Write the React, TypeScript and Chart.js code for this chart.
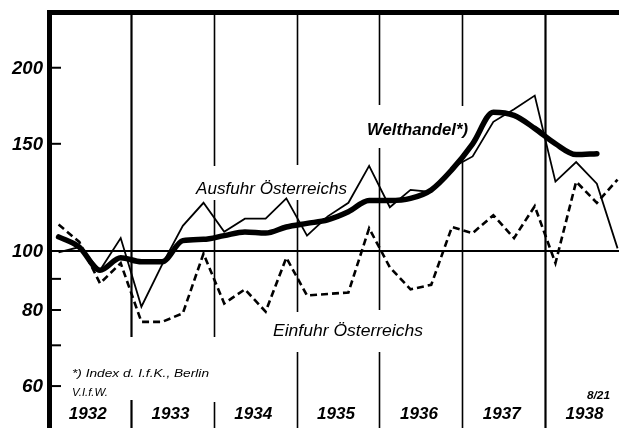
import React, { useEffect, useRef } from "react";
import { Chart, registerables } from "chart.js";

Chart.register(...registerables);

// Quarterly index values, log scale
const quarters = [
  "1932 I", "1932 II", "1932 III", "1932 IV",
  "1933 I", "1933 II", "1933 III", "1933 IV",
  "1934 I", "1934 II", "1934 III", "1934 IV",
  "1935 I", "1935 II", "1935 III", "1935 IV",
  "1936 I", "1936 II", "1936 III", "1936 IV",
  "1937 I", "1937 II", "1937 III", "1937 IV",
  "1938 I", "1938 II", "1938 III", "1938 IV",
];
const years = ["1932", "1933", "1934", "1935", "1936", "1937", "1938"];

const ausfuhr = [
  99.5, 101.5, 93, 105,
  81, 95, 110, 120,
  107.5, 113, 113, 122,
  106, 114, 120, 138,
  118, 126, 125, 137,
  143, 163, 171, 180,
  130, 140, 129, 101,
];
const einfuhr = [
  110.5, 103.5, 88.5, 95.5,
  76.5, 76.5, 79, 99,
  82, 86.5, 79.5, 97.5,
  84.5, 85, 85.5, 109,
  94, 86.5, 88, 109.5,
  107, 114.5, 105, 118.5,
  95.5, 130, 120, 131,
];
const welthandel = [
  105.5, 101.5, 93, 97.5,
  96, 96, 104, 104.5,
  106, 107.5, 107, 109.5,
  111, 112.5, 116, 121,
  121, 122, 126, 136,
  150, 169, 167, 159,
  150, 144, 144.5,
];

const yLabelTicks = [60, 80, 100, 150, 200];
const yMarkTicks = [60, 70, 80, 90, 150, 200];

const seriesLabels = {
  welt: "Welthandel*)",
  aus: "Ausfuhr Österreichs",
  ein: "Einfuhr Österreichs",
  note: "*) Index d. I.f.K., Berlin",
  source: "V.I.f.W.",
  num: "8/21",
};

const FONT = '"Liberation Sans", "DejaVu Sans", sans-serif';

function fitText(ctx: CanvasRenderingContext2D, text: string, left: number, baseline: number, width: number, font: string) {
  ctx.font = font;
  const m = ctx.measureText(text).width;
  ctx.save();
  ctx.translate(left, baseline);
  ctx.scale(width / m, 1);
  ctx.textAlign = "left";
  ctx.textBaseline = "alphabetic";
  ctx.fillText(text, 0, 0);
  ctx.restore();
}

function seg(ctx: CanvasRenderingContext2D, x1: number, y1: number, x2: number, y2: number) {
  ctx.beginPath();
  ctx.moveTo(x1, y1);
  ctx.lineTo(x2, y2);
  ctx.stroke();
}

// vertical extents (px) of each year separator, leaving gaps around texts
const separatorSegments: number[][][] = [
  [[13, 337], [400, 428]],
  [[13, 166], [200, 337], [402, 428]],
  [[13, 165], [200, 312], [352, 428]],
  [[13, 105], [148, 310], [352, 428]],
  [[13, 106], [160, 428]],
  [[13, 428]],
];

const decor = {
  id: "decor",
  beforeDatasetsDraw(chart: any) {
    const { ctx, chartArea: a, scales } = chart;
    const xs = scales.x;
    const ys = scales.y;
    ctx.save();
    ctx.strokeStyle = "#000";
    ctx.lineCap = "butt";
    ctx.lineWidth = 2;
    const y100 = ys.getPixelForValue(100);
    seg(ctx, a.left, y100, a.right, y100);
    separatorSegments.forEach((segs, i) => {
      ctx.lineWidth = i === 0 || i === 5 ? 2.2 : 1.6;
      const px = Math.round(xs.getPixelForValue(3.5 + 4 * i)) + 0.5;
      segs.forEach(([t, b]) => seg(ctx, px, t, px, b));
    });
    ctx.restore();
  },
  afterDatasetsDraw(chart: any) {
    const { ctx, chartArea: a, scales } = chart;
    const xs = scales.x;
    const ys = scales.y;
    ctx.save();
    ctx.strokeStyle = "#000";
    ctx.fillStyle = "#000";
    ctx.lineWidth = 5;
    seg(ctx, a.left - 0.5, 10, a.left - 0.5, 428);
    seg(ctx, a.left - 3, 12.5, a.right, 12.5);
    ctx.lineWidth = 2;
    yMarkTicks.forEach((v) => {
      const py = ys.getPixelForValue(v);
      seg(ctx, a.left + 2, py, a.left + 11, py);
    });
    ctx.textAlign = "right";
    ctx.textBaseline = "middle";
    yLabelTicks.forEach((v) => {
      const py = ys.getPixelForValue(v);
      const t = String(v);
      ctx.font = `italic bold 18px ${FONT}`;
      const m = ctx.measureText(t).width;
      const w = t.length === 3 ? 31 : 21;
      ctx.save();
      ctx.translate(43, py + 1);
      ctx.scale(w / m, 1);
      ctx.fillText(t, 0, 0);
      ctx.restore();
    });
    years.forEach((yr, i) => {
      const cx = xs.getPixelForValue(4 * i + 1.5) - 2;
      fitText(ctx, yr, cx - 19, 419, 38, `italic bold 17px ${FONT}`);
    });
    fitText(ctx, seriesLabels.welt, 367, 135, 101, `italic bold 17px ${FONT}`);
    fitText(ctx, seriesLabels.aus, 196, 194, 151, `italic 17px ${FONT}`);
    fitText(ctx, seriesLabels.ein, 273, 336, 150, `italic 17px ${FONT}`);
    fitText(ctx, seriesLabels.note, 72, 377, 137, `italic 11px ${FONT}`);
    fitText(ctx, seriesLabels.source, 72, 396, 36, `italic 11px ${FONT}`);
    fitText(ctx, seriesLabels.num, 587, 399, 23, `italic bold 11px ${FONT}`);
    ctx.restore();
  },
};

export default function App() {
  const ref = useRef<HTMLCanvasElement>(null);
  useEffect(() => {
    document.body.style.margin = "0";
    const toPts = (arr: number[]) => arr.map((v, i) => ({ x: i, y: v, q: quarters[i] }));
    const chart = new Chart(ref.current as HTMLCanvasElement, {
      type: "line",
      data: {
        datasets: [
          {
            label: seriesLabels.ein,
            data: toPts(einfuhr),
            borderColor: "#000",
            borderWidth: 2.6,
            borderDash: [7, 4],
            pointRadius: 0,
            tension: 0,
            fill: false,
          },
          {
            label: seriesLabels.aus,
            data: toPts(ausfuhr),
            borderColor: "#000",
            borderWidth: 1.8,
            pointRadius: 0,
            tension: 0,
            fill: false,
          },
          {
            label: seriesLabels.welt,
            data: toPts(welthandel),
            borderColor: "#000",
            borderWidth: 5.5,
            pointRadius: 0,
            cubicInterpolationMode: "monotone",
            borderCapStyle: "round",
            borderJoinStyle: "round",
            fill: false,
          },
        ] as any,
      },
      options: {
        animation: false,
        responsive: false,
        devicePixelRatio: 1,
        layout: { padding: { left: 50, top: 13, right: 0, bottom: 0 } },
        scales: {
          x: { type: "linear", min: -0.415, max: 27.07, display: false },
          y: { type: "logarithmic", min: 51.2, max: 246, display: false },
        },
        plugins: {
          legend: { display: false },
          tooltip: { enabled: false },
        },
      },
      plugins: [decor],
    });
    return () => chart.destroy();
  }, []);
  return (
    <div style={{ width: 619, height: 428, background: "#fff" }}>
      <canvas ref={ref} width={619} height={428} style={{ display: "block" }} />
    </div>
  );
}
